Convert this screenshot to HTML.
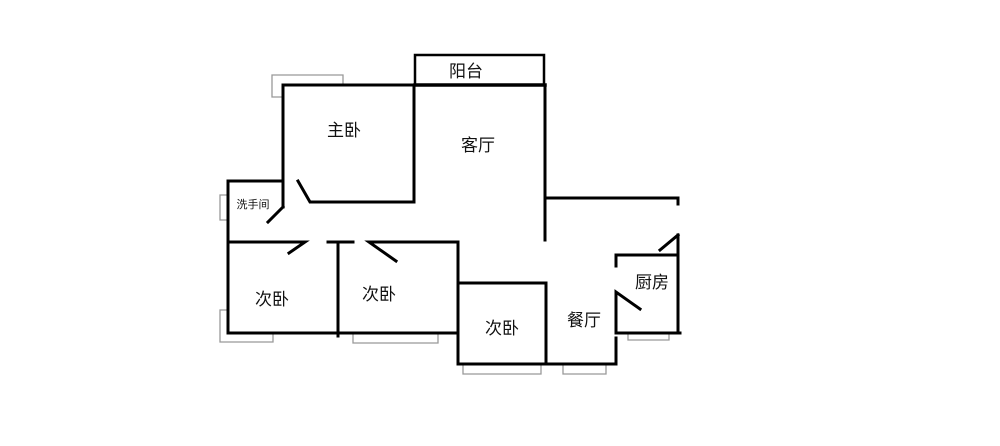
<!DOCTYPE html>
<html><head><meta charset="utf-8"><style>
body{margin:0;background:#fff;}
svg{display:block;}
text{font-family:"Liberation Sans","Noto Sans CJK SC",sans-serif;fill:#111;}
</style></head><body>
<svg width="1000" height="446" viewBox="0 0 1000 446" xmlns="http://www.w3.org/2000/svg">
<g fill="none" stroke="#999" stroke-width="1.3">
<polyline points="283,97 272,97 272,75 343,75 343,85"/>
<polyline points="228,195 220,195 220,220 228,220"/>
<polyline points="228,310 220,310 220,342 273,342 273,333"/>
<polyline points="353,333 353,343 438,343 438,333"/>
<polyline points="463,364 463,374 541,374 541,364"/>
<polyline points="563,364 563,374 606,374 606,364"/>
<polyline points="628,333 628,340 669,340 669,333"/>
</g>
<g fill="none" stroke="#000" stroke-width="3" stroke-linecap="square">
<rect x="415" y="55" width="129" height="30" stroke-width="2.5"/>
<line x1="415" y1="85" x2="545" y2="85" stroke-width="3.5"/>
<polyline points="283,207 283,85 415,85"/>
<polyline points="414,85 414,202 310,202 298,181"/>
<line x1="283" y1="207" x2="268" y2="222"/>
<polyline points="283,181 228,181 228,333"/>
<line x1="545" y1="85" x2="545" y2="240"/>
<polyline points="545,198 678,198 678,204"/>
<polyline points="228,242 305,242 289,253"/>
<line x1="328" y1="242" x2="353" y2="242"/>
<line x1="338" y1="242" x2="338" y2="336"/>
<polyline points="396,261 369,242 458,242 458,364"/>
<polyline points="458,283 546,283 546,364"/>
<line x1="228" y1="333" x2="458" y2="333"/>
<line x1="458" y1="364" x2="616" y2="364"/>
<line x1="616" y1="338" x2="616" y2="364"/>
<polyline points="616,266 616,255 678,255"/>
<line x1="678" y1="235" x2="678" y2="333"/>
<line x1="660" y1="250" x2="678" y2="235"/>
<polyline points="640,309 616,292 616,333 680,333"/>
</g>
<g font-size="17" text-anchor="middle">
<text x="466" y="77">阳台</text>
<text x="344" y="136">主卧</text>
<text x="478" y="151">客厅</text>
<text x="272" y="305">次卧</text>
<text x="379" y="300">次卧</text>
<text x="502" y="334">次卧</text>
<text x="584" y="326">餐厅</text>
<text x="652" y="288">厨房</text>
<text x="253" y="208" font-size="11">洗手间</text>
</g>
</svg>
</body></html>
